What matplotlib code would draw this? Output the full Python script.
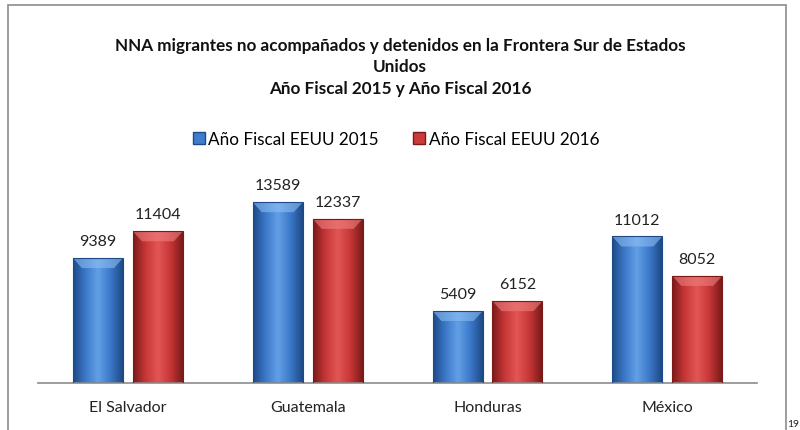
import matplotlib.pyplot as plt
import numpy as np
from matplotlib.patches import Rectangle, Polygon
from matplotlib.colors import LinearSegmentedColormap

paises = ["El Salvador", "Guatemala", "Honduras", "México"]
fy2015 = [9389, 13589, 5409, 11012]
fy2016 = [11404, 12337, 6152, 8052]
series_labels = ["Año Fiscal EEUU 2015", "Año Fiscal EEUU 2016"]
titulo = ("NNA migrantes no acompañados y detenidos en la Frontera Sur de Estados\n"
          "Unidos\nAño Fiscal 2015 y Año Fiscal 2016")

plt.rcParams['font.family'] = ['Lato', 'DejaVu Sans']

fig = plt.figure(figsize=(8, 4.31), dpi=100)
ax = fig.add_axes([0.0475, 0.109, 0.899, 0.494])

x = np.arange(len(paises))
w = 0.278
off = 0.1667

estilos = [
    dict(dark="#1d4a86", mid="#3b78c9", light="#64a0e6", top="#8cbdf0", face="#3f7dcc"),
    dict(dark="#7a1a1a", mid="#c73636", light="#e25656", top="#ee8080", face="#cc3b3b"),
]


def bar_3d(ax, bars, st):
    cmap = LinearSegmentedColormap.from_list("g", [st["dark"], st["mid"], st["light"], st["mid"], st["dark"]])
    grad = np.linspace(0, 1, 256).reshape(1, -1)
    for b in bars:
        x0, y0 = b.get_x(), b.get_y()
        bw, bh = b.get_width(), b.get_height()
        im = ax.imshow(grad, cmap=cmap, aspect="auto", extent=(x0, x0 + bw, y0, y0 + bh),
                       zorder=2, interpolation="bicubic")
        im.set_clip_path(b)
        dx = bw * 0.18
        dy = min(750, bh * 0.3)
        top = y0 + bh
        ax.add_patch(Polygon([(x0, top), (x0 + bw, top), (x0 + bw - dx, top - dy), (x0 + dx, top - dy)],
                             closed=True, facecolor=st["top"], edgecolor="none", alpha=0.6, zorder=3))
        ax.add_patch(Rectangle((x0, y0), bw, bh, facecolor="none", edgecolor=st["dark"],
                               linewidth=0.8, zorder=4))


b1 = ax.bar(x - off, fy2015, w, color=estilos[0]["face"], label=series_labels[0], zorder=1)
b2 = ax.bar(x + off, fy2016, w, color=estilos[1]["face"], label=series_labels[1], zorder=1)
bar_3d(ax, b1, estilos[0])
bar_3d(ax, b2, estilos[1])

for bars, vals in ((b1, fy2015), (b2, fy2016)):
    for b, v in zip(bars, vals):
        ax.text(b.get_x() + b.get_width() / 2, v + 750, str(v), ha="center", va="bottom",
                fontsize=11.5, color="#222222")

ax.set_xlim(-0.5, len(paises) - 0.5)
ax.set_ylim(0, 16000)
ax.set_xticks(x)
ax.set_xticklabels(paises, fontsize=11.5, color="#222222")
ax.tick_params(axis="x", length=0, pad=12)
ax.set_yticks([])
for s in ("top", "right", "left"):
    ax.spines[s].set_visible(False)
ax.spines["bottom"].set_color("#8c8c8c")
ax.spines["bottom"].set_linewidth(1.2)

fig.text(0.5, 1 - 67.5 / 431, titulo, ha="center", va="center", fontsize=12.3,
         fontweight="bold", linespacing=1.42, color="#111111")

leg = fig.legend(loc="center", bbox_to_anchor=(0.495, 1 - 140 / 431), ncol=2, frameon=False,
                 fontsize=12.3, handlelength=0.7, handleheight=0.7, handletextpad=0.2,
                 columnspacing=2.0)
for h, st in zip(leg.legend_handles, estilos):
    h.set_edgecolor(st["dark"])

fig.add_artist(Rectangle((8 / 800, -0.05), 778 / 800, 1.05 - 6 / 431, transform=fig.transFigure,
                         facecolor="none", edgecolor="#8c8c8c", linewidth=1.2))
fig.text(787.5 / 800, 1 - 425 / 431, "19", ha="left", va="center", fontsize=7.5, color="#222222")

fig.savefig("out.png", dpi=100)
